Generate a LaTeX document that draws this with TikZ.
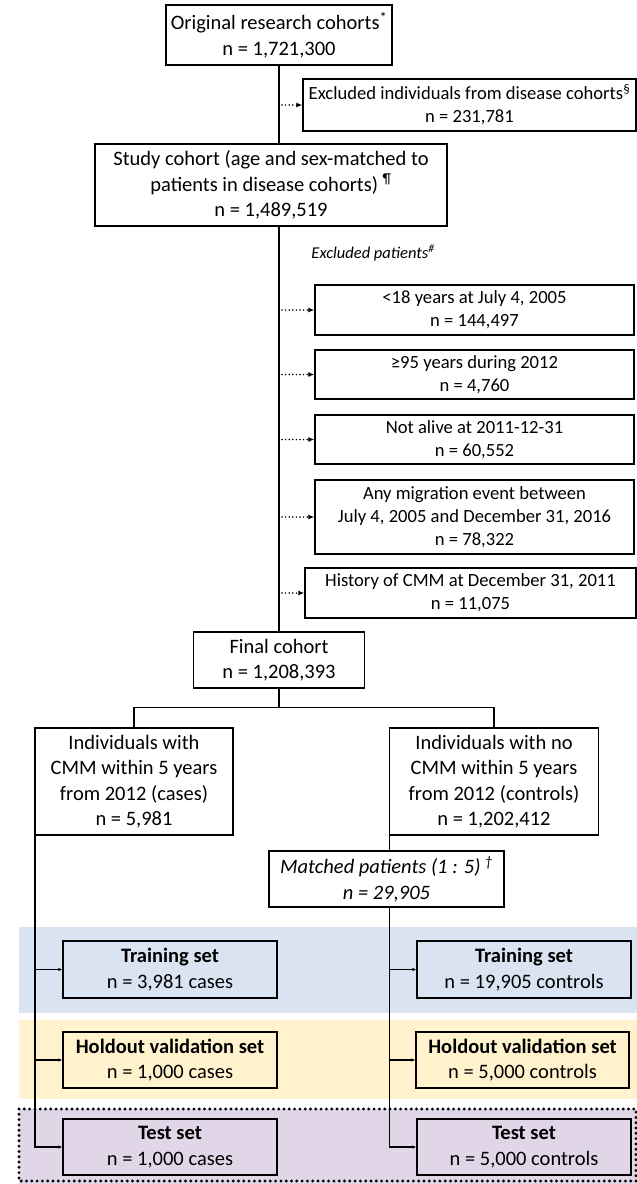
\documentclass[tikz,border=0pt]{standalone}
\usepackage{fontspec}
\setmainfont{Carlito}
\usetikzlibrary{arrows.meta}
\definecolor{bandblue}{RGB}{218,227,242}
\definecolor{bandyellow}{RGB}{255,242,204}
\definecolor{bandpurple}{RGB}{225,214,232}
\newcommand\mainfs{\fontsize{20.5}{25.5}\selectfont}
\newcommand\exclfs{\fontsize{18.6}{23}\selectfont}
\begin{document}
\begin{tikzpicture}[x=1pt,y=-1pt,
  box/.style={draw, line width=1.3pt, align=center, inner sep=0pt, font=\mainfs},
  exbox/.style={draw, line width=1.3pt, align=center, inner sep=0pt, font=\exclfs},
  conn/.style={line width=1.4pt},
  dotarrow/.style={line width=1.7pt, line cap=round, dash pattern=on 0pt off 3.6pt, -{Latex[length=6pt,width=5pt,line cap=butt]}},
  solarrow/.style={line width=1.4pt, -{Latex[length=4pt,width=3.5pt]}}]
\useasboundingbox (0,0) rectangle (637,1184);
% bands
\fill[bandblue] (19,927) rectangle (637,1013);
\fill[bandyellow] (19,1020) rectangle (637,1099);
\fill[bandpurple] (19,1109) rectangle (637,1184);
\draw[line width=3.2pt, line cap=round, dash pattern=on 0pt off 5.3pt] (19,1109) rectangle (636,1181);

% top part
\node[box, minimum width=226pt, minimum height=60pt] (orig) at (279,35)
  {Original research cohorts\textsuperscript{*}\\n = 1,721,300};
\node[exbox, minimum width=333pt, minimum height=52pt] (excl) at (469.5,105)
  {Excluded individuals from disease cohorts\textsuperscript{§}\\n = 231,781};
\node[box, minimum width=352pt, minimum height=82pt] (study) at (271,185)
  {Study cohort (age and sex-matched to\\patients in disease cohorts)~\textsuperscript{¶}\\n = 1,489,519};
\node[font=\fontsize{16.5}{20}\selectfont\itshape] (exlab) at (373,253) {Excluded patients\textsuperscript{\#}};

\node[exbox, minimum width=319pt, minimum height=50pt] (e1) at (474.5,310)
  {<18 years at July 4, 2005\\n = 144,497};
\node[exbox, minimum width=319pt, minimum height=49pt] (e2) at (474.5,374.5)
  {≥95 years during 2012\\n = 4,760};
\node[exbox, minimum width=319pt, minimum height=49pt] (e3) at (474.5,439.5)
  {Not alive at 2011-12-31\\n = 60,552};
\node[exbox, minimum width=319pt, minimum height=74pt] (e4) at (474.5,517)
  {Any migration event between\\July 4, 2005 and December 31, 2016\\n = 78,322};
\node[exbox, minimum width=331pt, minimum height=50pt] (e5) at (470.5,593)
  {History of CMM at December 31, 2011\\n = 11,075};

\node[box, minimum width=171pt, minimum height=56pt] (final) at (279,660)
  {Final cohort\\n = 1,208,393};

\node[box, minimum width=198pt, minimum height=107pt] (cases) at (134,781.5)
  {Individuals with\\CMM within 5 years\\from 2012 (cases)\\n = 5,981};
\node[box, minimum width=209pt, minimum height=107pt] (ctrl) at (494,781.5)
  {Individuals with no\\CMM within 5 years\\from 2012 (controls)\\n = 1,202,412};
\node[box, font=\mainfs\itshape, minimum width=235pt, minimum height=56pt] (match) at (386.5,879)
  {Matched patients (1 : 5)~\textsuperscript{†}\\n = 29,905};

% bottom boxes
\node[box, fill=bandblue, minimum width=214pt, minimum height=57pt] (trainL) at (170,969.5)
  {\textbf{Training set}\\n = 3,981 cases};
\node[box, fill=bandyellow, minimum width=214pt, minimum height=56pt] (holdL) at (170,1060)
  {\textbf{Holdout validation set}\\n = 1,000 cases};
\node[box, fill=bandpurple, minimum width=214pt, minimum height=56pt] (testL) at (170,1147)
  {\textbf{Test set}\\n = 1,000 cases};
\node[box, fill=bandblue, minimum width=214pt, minimum height=57pt] (trainR) at (524,969.5)
  {\textbf{Training set}\\n = 19,905 controls};
\node[box, fill=bandyellow, minimum width=213pt, minimum height=56pt] (holdR) at (522.5,1060)
  {\textbf{Holdout validation set}\\n = 5,000 controls};
\node[box, fill=bandpurple, minimum width=214pt, minimum height=56pt] (testR) at (524,1147)
  {\textbf{Test set}\\n = 5,000 controls};

% connectors
\draw[conn] (orig.south) -- (orig.south |- study.north);
\draw[dotarrow] ([xshift=3pt]excl.west -| orig.south) -- (excl.west);
\draw[conn] (study.south -| orig.south) -- (final.north);
\foreach \e in {e1,e2,e3,e4,e5}
  \draw[dotarrow] ([xshift=3pt]\e.west -| final.north) -- (\e.west);

\draw[conn] (final.south) -- ++(0,19) -| (cases.north);
\draw[conn] (final.south) -- ++(0,19) -| (ctrl.north);

\draw[conn] ([xshift=0.6pt]ctrl.south west) -- ([xshift=0.6pt]ctrl.south west |- match.north);
\draw[solarrow] ([xshift=0.6pt]ctrl.south west |- match.south) |- (testR.west);
\draw[solarrow] ([xshift=0.6pt]ctrl.south west |- trainR.west) -- (trainR.west);
\draw[solarrow] ([xshift=0.6pt]ctrl.south west |- holdR.west) -- (holdR.west);

\draw[solarrow] ([xshift=0.6pt]cases.south west) |- (testL.west);
\draw[solarrow] ([xshift=0.6pt]cases.south west |- trainL.west) -- (trainL.west);
\draw[solarrow] ([xshift=0.6pt]cases.south west |- holdL.west) -- (holdL.west);
\end{tikzpicture}
\end{document}
